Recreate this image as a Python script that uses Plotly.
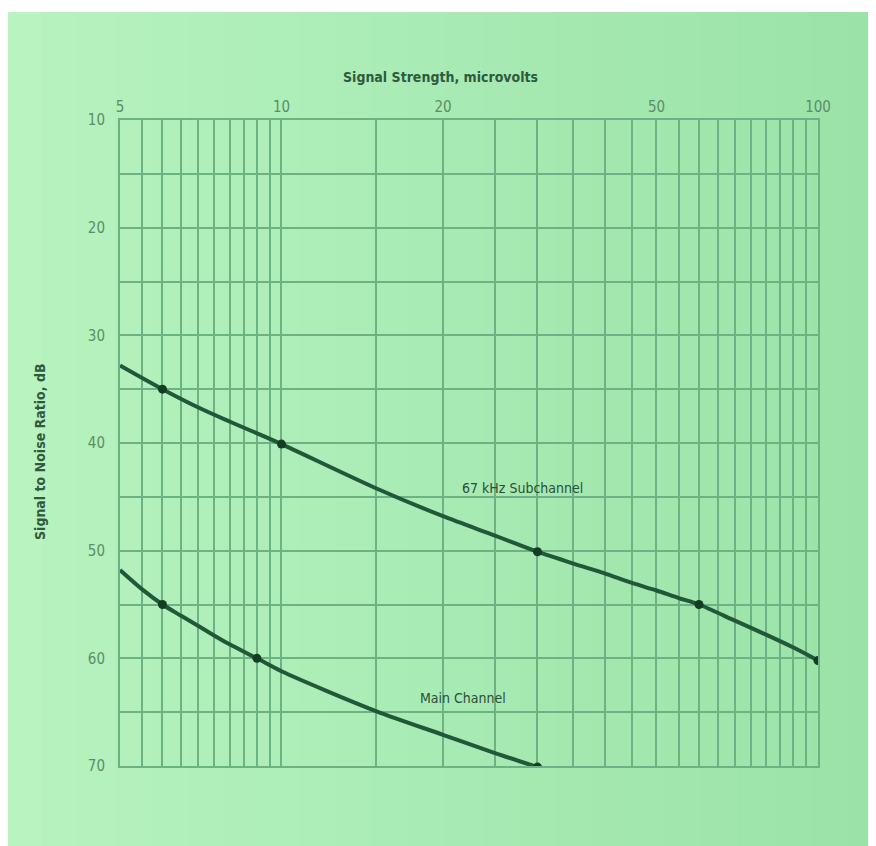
import plotly.graph_objects as go

# signal strength (microvolts) vs signal-to-noise ratio (dB)
sub_x = [5, 6, 7, 8, 9, 10, 15, 20, 25, 30, 35, 40, 45, 50, 55, 60, 70, 80, 90, 100]
sub_y = [32.8, 35.0, 36.7, 38.0, 39.1, 40.1, 44.2, 46.8, 48.6, 50.1, 51.2, 52.1, 53.0, 53.7, 54.4,
         55.0, 56.5, 57.8, 59.0, 60.2]
sub_mx = [6, 10, 30, 60, 100]
sub_my = [35.0, 40.1, 50.1, 55.0, 60.2]

main_x = [5, 5.5, 6, 6.5, 7, 7.5, 8, 9, 10, 15, 20, 25, 30]
main_y = [51.8, 53.6, 55.0, 56.05, 57.0, 57.9, 58.7, 60.0, 61.2, 64.9, 67.1, 68.8, 70.1]
main_mx = [6, 9, 30]
main_my = [55.0, 60.0, 70.1]

x_grid = [5, 5.5, 6, 6.5, 7, 7.5, 8, 8.5, 9, 9.5, 10] + list(range(15, 105, 5))
x_labels = [5, 10, 20, 50, 100]
y_grid = list(range(10, 75, 5))
y_labels = [10, 20, 30, 40, 50, 60, 70]

ink = "#22583a"
grid = "#6db282"
lab = "#5b8d68"
font = "Liberation Sans Narrow, DejaVu Sans Condensed, sans-serif"

# plot area in figure pixels (page body adds 8px offset)
L, R, T, B = 112, 810, 112, 758
W, H = R - L, B - T

fig = go.Figure()
fig.add_trace(go.Scatter(x=sub_x, y=sub_y, mode="lines",
                         line=dict(color=ink, width=4, shape="spline", smoothing=0.8)))
fig.add_trace(go.Scatter(x=main_x, y=main_y, mode="lines",
                         line=dict(color=ink, width=4, shape="spline", smoothing=0.8)))
fig.add_trace(go.Scatter(x=sub_mx + main_mx, y=sub_my + main_my, mode="markers",
                         marker=dict(color="#143d26", size=9)))

# green paper, lighter on the left
shapes = []
n = 24
strip = 880 / n
for i in range(n):
    t = i / (n - 1)
    r = int(184 - 30 * t)
    g = int(243 - 16 * t)
    b = int(192 - 24 * t)
    x0 = -3 + i * strip
    shapes.append(dict(type="rect", xref="paper", yref="paper", layer="below", line_width=0,
                       x0=(x0 - L) / W, x1=(x0 + strip + 1 - L) / W,
                       y0=(B - 860) / H, y1=(B - 4) / H,
                       fillcolor=f"rgb({r},{g},{b})"))

fig.update_layout(
    width=876, height=846,
    margin=dict(l=L, r=876 - R, t=T, b=846 - B),
    paper_bgcolor="white", plot_bgcolor="rgba(0,0,0,0)",
    showlegend=False, shapes=shapes,
    font=dict(family=font, size=14, color=lab),
)
fig.update_xaxes(type="log", side="top", range=[0.699, 2.0],
                 tickvals=x_grid, ticktext=[str(v) if v in x_labels else "" for v in x_grid],
                 showgrid=True, gridcolor=grid, gridwidth=2, ticks="",
                 showline=True, linecolor=grid, linewidth=2, mirror=True, zeroline=False,
                 tickfont=dict(size=15, color=lab))
fig.update_yaxes(range=[70, 10], tickvals=y_grid,
                 ticktext=[str(v) if v in y_labels else "" for v in y_grid],
                 showgrid=True, gridcolor=grid, gridwidth=2, ticks="", ticklabelstandoff=10,
                 showline=True, linecolor=grid, linewidth=2, mirror=True, zeroline=False,
                 tickfont=dict(size=15, color=lab))

fig.add_annotation(text="<b>Signal Strength, microvolts</b>", xref="paper", yref="paper",
                   x=(432 - L) / W, y=(B - 69) / H, xanchor="center", yanchor="middle",
                   showarrow=False, font=dict(size=14, color="#2f5a3d"))
fig.add_annotation(text="<b>Signal to Noise Ratio, dB</b>", xref="paper", yref="paper",
                   x=(32 - L) / W, y=(B - 444) / H, xanchor="center", yanchor="middle",
                   textangle=-90, showarrow=False, font=dict(size=14, color="#2f5a3d"))
fig.add_annotation(text="67 kHz Subchannel", x=1.449, y=44.2, showarrow=False,
                   font=dict(size=14, color="#2b4f37"))
fig.add_annotation(text="Main Channel", x=1.339, y=63.7, showarrow=False,
                   font=dict(size=14, color="#2b4f37"))

fig.write_html("out.html")
